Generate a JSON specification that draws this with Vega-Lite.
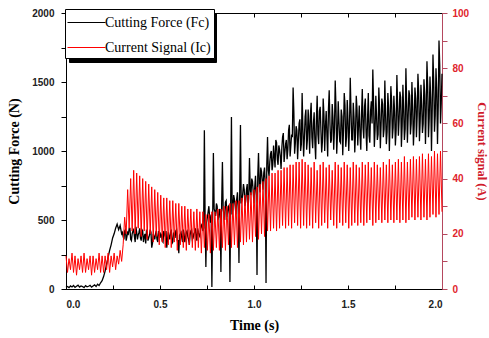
{
  "$schema": "https://vega.github.io/schema/vega-lite/v6.json",
  "width": 376,
  "height": 276,
  "autosize": {"type": "none"},
  "padding": {"left": 66, "top": 13, "right": 47, "bottom": 49},
  "background": "white",
  "config": {
    "view": {"stroke": "#000000", "strokeWidth": 1},
    "axis": {"grid": false, "labelFont": "Liberation Sans", "labelFontWeight": "bold", "labelFontSize": 10, "titleFont": "Liberation Serif", "titleFontWeight": "bold", "titleFontSize": 14},
    "legend": {"labelFont": "Liberation Serif", "labelFontSize": 14}
  },
  "data": {"values": [
{"t":0,"f":12,"c":12},{"t":0.008,"f":18,"c":6},{"t":0.016,"f":10,"c":11},{"t":0.024,"f":22,"c":7},{"t":0.032,"f":15,"c":13},{"t":0.04,"f":25,"c":6},{"t":0.048,"f":12,"c":12},{"t":0.056,"f":20,"c":5},{"t":0.064,"f":28,"c":11},{"t":0.072,"f":14,"c":7},
{"t":0.08,"f":22,"c":12},{"t":0.088,"f":18,"c":6},{"t":0.096,"f":10,"c":13},{"t":0.104,"f":24,"c":6},{"t":0.112,"f":16,"c":11},{"t":0.12,"f":20,"c":7},{"t":0.128,"f":26,"c":12},{"t":0.136,"f":14,"c":5},{"t":0.144,"f":22,"c":12},{"t":0.152,"f":30,"c":6},
{"t":0.16,"f":18,"c":11},{"t":0.168,"f":35,"c":7},{"t":0.176,"f":25,"c":13},{"t":0.184,"f":45,"c":6},{"t":0.192,"f":60,"c":12},{"t":0.2,"f":90,"c":6},{"t":0.208,"f":130,"c":12},{"t":0.216,"f":180,"c":7},{"t":0.224,"f":230,"c":13},{"t":0.232,"f":280,"c":6},
{"t":0.24,"f":320,"c":12},{"t":0.248,"f":370,"c":8},{"t":0.256,"f":400,"c":13},{"t":0.264,"f":440,"c":7},{"t":0.272,"f":470,"c":12},{"t":0.28,"f":430,"c":9},{"t":0.288,"f":460,"c":14},{"t":0.296,"f":400,"c":10},{"t":0.304,"f":380,"c":16},{"t":0.312,"f":420,"c":26},
{"t":0.32,"f":350,"c":20},{"t":0.328,"f":410,"c":36},{"t":0.336,"f":440,"c":22},{"t":0.344,"f":360,"c":40},{"t":0.352,"f":400,"c":21},{"t":0.36,"f":430,"c":43},{"t":0.368,"f":340,"c":20},{"t":0.376,"f":410,"c":42},{"t":0.384,"f":390,"c":22},{"t":0.392,"f":440,"c":41},
{"t":0.4,"f":350,"c":19},{"t":0.408,"f":420,"c":40},{"t":0.416,"f":380,"c":21},{"t":0.424,"f":330,"c":39},{"t":0.432,"f":410,"c":18},{"t":0.44,"f":370,"c":38},{"t":0.448,"f":430,"c":20},{"t":0.456,"f":300,"c":37},{"t":0.464,"f":400,"c":17},{"t":0.472,"f":360,"c":36},
{"t":0.48,"f":420,"c":19},{"t":0.488,"f":340,"c":35},{"t":0.496,"f":390,"c":16},{"t":0.504,"f":400,"c":34},{"t":0.512,"f":350,"c":17},{"t":0.52,"f":420,"c":33},{"t":0.528,"f":380,"c":15},{"t":0.536,"f":300,"c":33},{"t":0.544,"f":410,"c":16},{"t":0.552,"f":360,"c":32},
{"t":0.56,"f":430,"c":15},{"t":0.568,"f":340,"c":32},{"t":0.576,"f":390,"c":17},{"t":0.584,"f":420,"c":31},{"t":0.592,"f":350,"c":14},{"t":0.6,"f":260,"c":31},{"t":0.608,"f":400,"c":16},{"t":0.616,"f":370,"c":30},{"t":0.624,"f":430,"c":15},{"t":0.632,"f":340,"c":30},
{"t":0.64,"f":410,"c":14},{"t":0.648,"f":380,"c":29},{"t":0.656,"f":320,"c":16},{"t":0.664,"f":420,"c":29},{"t":0.672,"f":360,"c":15},{"t":0.68,"f":400,"c":28},{"t":0.688,"f":440,"c":14},{"t":0.696,"f":350,"c":29},{"t":0.704,"f":410,"c":15},{"t":0.712,"f":380,"c":28},
{"t":0.72,"f":460,"c":13},{"t":0.728,"f":420,"c":28},{"t":0.736,"f":1150,"c":15},{"t":0.744,"f":160,"c":27},{"t":0.752,"f":520,"c":14},{"t":0.76,"f":600,"c":27},{"t":0.768,"f":480,"c":13},{"t":0.776,"f":15,"c":28},{"t":0.784,"f":985,"c":14},{"t":0.792,"f":560,"c":28},
{"t":0.8,"f":620,"c":15},{"t":0.808,"f":500,"c":29},{"t":0.816,"f":580,"c":14},{"t":0.824,"f":123,"c":29},{"t":0.832,"f":920,"c":15},{"t":0.84,"f":540,"c":30},{"t":0.848,"f":630,"c":14},{"t":0.856,"f":520,"c":30},{"t":0.864,"f":600,"c":16},{"t":0.872,"f":50,"c":31},
{"t":0.88,"f":1246,"c":15},{"t":0.888,"f":580,"c":31},{"t":0.896,"f":650,"c":16},{"t":0.904,"f":540,"c":32},{"t":0.912,"f":700,"c":15},{"t":0.92,"f":188,"c":32},{"t":0.928,"f":1188,"c":17},{"t":0.936,"f":640,"c":33},{"t":0.944,"f":760,"c":16},{"t":0.952,"f":600,"c":34},
{"t":0.96,"f":720,"c":17},{"t":0.968,"f":580,"c":34},{"t":0.976,"f":950,"c":18},{"t":0.984,"f":680,"c":35},{"t":0.992,"f":780,"c":17},{"t":1.0,"f":620,"c":36},{"t":1.008,"f":820,"c":19},{"t":1.016,"f":101,"c":37},{"t":1.024,"f":985,"c":18},{"t":1.032,"f":700,"c":38},
{"t":1.04,"f":850,"c":20},{"t":1.048,"f":720,"c":39},{"t":1.056,"f":880,"c":19},{"t":1.064,"f":43,"c":40},{"t":1.072,"f":1101,"c":21},{"t":1.08,"f":820,"c":41},{"t":1.088,"f":980,"c":21},{"t":1.096,"f":860,"c":42},{"t":1.104,"f":1040,"c":22},{"t":1.112,"f":880,"c":42},
{"t":1.12,"f":1060,"c":21},{"t":1.128,"f":900,"c":43},{"t":1.136,"f":1010,"c":22},{"t":1.144,"f":870,"c":43},{"t":1.152,"f":1100,"c":23},{"t":1.16,"f":920,"c":44},{"t":1.168,"f":1050,"c":22},{"t":1.176,"f":940,"c":44},{"t":1.184,"f":1150,"c":23},{"t":1.192,"f":960,"c":45},
{"t":1.2,"f":1120,"c":22},{"t":1.208,"f":1460,"c":45},{"t":1.216,"f":980,"c":24},{"t":1.224,"f":1180,"c":46},{"t":1.232,"f":940,"c":23},{"t":1.24,"f":1200,"c":46},{"t":1.248,"f":1000,"c":22},{"t":1.256,"f":1420,"c":47},{"t":1.264,"f":960,"c":23},{"t":1.272,"f":1250,"c":46},
{"t":1.28,"f":1010,"c":22},{"t":1.288,"f":1300,"c":45},{"t":1.296,"f":980,"c":23},{"t":1.304,"f":1350,"c":44},{"t":1.312,"f":1020,"c":22},{"t":1.32,"f":1280,"c":46},{"t":1.328,"f":940,"c":24},{"t":1.336,"f":1400,"c":43},{"t":1.344,"f":1050,"c":22},{"t":1.352,"f":1320,"c":45},
{"t":1.36,"f":990,"c":23},{"t":1.368,"f":1380,"c":46},{"t":1.376,"f":1000,"c":24},{"t":1.384,"f":1290,"c":44},{"t":1.392,"f":960,"c":22},{"t":1.4,"f":1440,"c":45},{"t":1.408,"f":1060,"c":25},{"t":1.416,"f":1340,"c":43},{"t":1.424,"f":1010,"c":23},{"t":1.432,"f":1510,"c":46},
{"t":1.44,"f":980,"c":22},{"t":1.448,"f":1360,"c":45},{"t":1.456,"f":1070,"c":24},{"t":1.464,"f":1300,"c":44},{"t":1.472,"f":970,"c":23},{"t":1.48,"f":1420,"c":46},{"t":1.488,"f":1030,"c":24},{"t":1.496,"f":1370,"c":45},{"t":1.504,"f":1000,"c":22},{"t":1.512,"f":1530,"c":44},
{"t":1.52,"f":1080,"c":23},{"t":1.528,"f":1350,"c":46},{"t":1.536,"f":990,"c":24},{"t":1.544,"f":1400,"c":45},{"t":1.552,"f":1040,"c":23},{"t":1.56,"f":1330,"c":44},{"t":1.568,"f":1010,"c":24},{"t":1.576,"f":1450,"c":46},{"t":1.584,"f":1090,"c":23},{"t":1.592,"f":1380,"c":45},
{"t":1.6,"f":1000,"c":24},{"t":1.608,"f":1420,"c":46},{"t":1.616,"f":1060,"c":25},{"t":1.624,"f":1360,"c":44},{"t":1.632,"f":1590,"c":23},{"t":1.64,"f":1030,"c":46},{"t":1.648,"f":1400,"c":24},{"t":1.656,"f":1080,"c":45},{"t":1.664,"f":1460,"c":25},{"t":1.672,"f":1020,"c":44},
{"t":1.68,"f":1380,"c":24},{"t":1.688,"f":1100,"c":46},{"t":1.696,"f":1510,"c":25},{"t":1.704,"f":1050,"c":45},{"t":1.712,"f":1420,"c":24},{"t":1.72,"f":1000,"c":47},{"t":1.728,"f":1470,"c":25},{"t":1.736,"f":1090,"c":45},{"t":1.744,"f":1400,"c":24},{"t":1.752,"f":1040,"c":46},
{"t":1.76,"f":1550,"c":25},{"t":1.768,"f":1110,"c":47},{"t":1.776,"f":1430,"c":24},{"t":1.784,"f":1030,"c":46},{"t":1.792,"f":1480,"c":25},{"t":1.8,"f":1080,"c":48},{"t":1.808,"f":1600,"c":24},{"t":1.816,"f":1060,"c":46},{"t":1.824,"f":1440,"c":25},{"t":1.832,"f":1120,"c":47},
{"t":1.84,"f":1500,"c":26},{"t":1.848,"f":1040,"c":48},{"t":1.856,"f":1460,"c":25},{"t":1.864,"f":1100,"c":47},{"t":1.872,"f":1560,"c":26},{"t":1.88,"f":1070,"c":48},{"t":1.888,"f":1480,"c":25},{"t":1.896,"f":1130,"c":49},{"t":1.904,"f":1520,"c":26},{"t":1.912,"f":1050,"c":47},
{"t":1.92,"f":1650,"c":25},{"t":1.928,"f":1100,"c":49},{"t":1.936,"f":1540,"c":26},{"t":1.944,"f":1000,"c":48},{"t":1.952,"f":1700,"c":27},{"t":1.96,"f":1140,"c":50},{"t":1.968,"f":1600,"c":26},{"t":1.976,"f":1050,"c":49},{"t":1.984,"f":1800,"c":27},{"t":1.992,"f":1200,"c":50},
{"t":2.0,"f":1560,"c":28},
{"t":0.3,"f":410},{"t":0.308,"f":360},{"t":0.316,"f":430},{"t":0.324,"f":380},{"t":0.332,"f":400},{"t":0.34,"f":440},{"t":0.348,"f":350},{"t":0.356,"f":420},{"t":0.364,"f":380},{"t":0.372,"f":450},
{"t":0.38,"f":360},{"t":0.388,"f":410},{"t":0.396,"f":370},{"t":0.404,"f":430},{"t":0.412,"f":340},{"t":0.42,"f":400},{"t":0.428,"f":420},{"t":0.436,"f":350},{"t":0.444,"f":390},{"t":0.452,"f":410},
{"t":0.46,"f":330},{"t":0.468,"f":380},{"t":0.476,"f":400},{"t":0.484,"f":360},{"t":0.492,"f":420},{"t":0.5,"f":370},{"t":0.508,"f":390},{"t":0.516,"f":340},{"t":0.524,"f":400},{"t":0.532,"f":420},
{"t":0.54,"f":360},{"t":0.548,"f":380},{"t":0.556,"f":410},{"t":0.564,"f":330},{"t":0.572,"f":400},{"t":0.58,"f":370},{"t":0.588,"f":430},{"t":0.596,"f":350},{"t":0.604,"f":390},{"t":0.612,"f":410},
{"t":0.62,"f":340},{"t":0.628,"f":400},{"t":0.636,"f":380},{"t":0.644,"f":420},{"t":0.652,"f":360},{"t":0.66,"f":390},{"t":0.668,"f":430},{"t":0.676,"f":370},{"t":0.684,"f":410},{"t":0.692,"f":380},
{"t":0.7,"f":440},{"t":0.708,"f":390},{"t":0.716,"f":430},{"t":0.724,"f":470},{"t":0.732,"f":440},{"t":0.74,"f":500},{"t":0.748,"f":480},{"t":0.756,"f":560},{"t":0.764,"f":520},{"t":0.772,"f":540},
{"t":0.78,"f":500},{"t":0.788,"f":580},{"t":0.796,"f":530},{"t":0.804,"f":600},{"t":0.812,"f":520},{"t":0.82,"f":560},{"t":0.828,"f":610},{"t":0.836,"f":580},{"t":0.844,"f":500},{"t":0.852,"f":640},
{"t":0.86,"f":560},{"t":0.868,"f":590},{"t":0.876,"f":620},{"t":0.884,"f":540},{"t":0.892,"f":680},{"t":0.9,"f":600},{"t":0.908,"f":650},{"t":0.916,"f":580},{"t":0.924,"f":700},{"t":0.932,"f":620},
{"t":0.94,"f":690},{"t":0.948,"f":720},{"t":0.956,"f":640},{"t":0.964,"f":760},{"t":0.972,"f":660},{"t":0.98,"f":720},{"t":0.988,"f":800},{"t":0.996,"f":700},{"t":1.004,"f":740},{"t":1.012,"f":680},
{"t":1.02,"f":820},{"t":1.028,"f":760},{"t":1.036,"f":880},{"t":1.044,"f":780},{"t":1.052,"f":840},{"t":1.06,"f":760},{"t":1.068,"f":900},{"t":1.076,"f":860},{"t":1.084,"f":920},{"t":1.092,"f":1000},
{"t":1.1,"f":900},{"t":1.108,"f":960},{"t":1.116,"f":1080},{"t":1.124,"f":940},{"t":1.132,"f":1040},{"t":1.14,"f":960},{"t":1.148,"f":1020},{"t":1.156,"f":1130},{"t":1.164,"f":990},{"t":1.172,"f":1080},
{"t":1.18,"f":1010},{"t":1.188,"f":1190},{"t":1.196,"f":1040},{"t":1.204,"f":1100},{"t":1.212,"f":1280},{"t":1.22,"f":1060},{"t":1.228,"f":1150},{"t":1.236,"f":1080},{"t":1.244,"f":1230},{"t":1.252,"f":1050},
{"t":1.26,"f":1160},{"t":1.268,"f":1100},{"t":1.276,"f":1300},{"t":1.284,"f":1080},{"t":1.292,"f":1180},{"t":1.3,"f":1260},{"t":1.308,"f":1100},{"t":1.316,"f":1200},{"t":1.324,"f":1060},{"t":1.332,"f":1230},
{"t":1.34,"f":1120},{"t":1.348,"f":1290},{"t":1.356,"f":1150},{"t":1.364,"f":1070},{"t":1.372,"f":1260},{"t":1.38,"f":1180},{"t":1.388,"f":1110},{"t":1.396,"f":1300},{"t":1.404,"f":1200},{"t":1.412,"f":1080},
{"t":1.42,"f":1240},{"t":1.428,"f":1160},{"t":1.436,"f":1320},{"t":1.444,"f":1120},{"t":1.452,"f":1210},{"t":1.46,"f":1060},{"t":1.468,"f":1250},{"t":1.476,"f":1150},{"t":1.484,"f":1330},{"t":1.492,"f":1100},
{"t":1.5,"f":1220},{"t":1.508,"f":1170},{"t":1.516,"f":1290},{"t":1.524,"f":1080},{"t":1.532,"f":1240},{"t":1.54,"f":1130},{"t":1.548,"f":1300},{"t":1.556,"f":1190},{"t":1.564,"f":1110},{"t":1.572,"f":1260},
{"t":1.58,"f":1170},{"t":1.588,"f":1320},{"t":1.596,"f":1140},{"t":1.604,"f":1230},{"t":1.612,"f":1110},{"t":1.62,"f":1290},{"t":1.628,"f":1200},{"t":1.636,"f":1350},{"t":1.644,"f":1150},{"t":1.652,"f":1250},
{"t":1.66,"f":1120},{"t":1.668,"f":1300},{"t":1.676,"f":1190},{"t":1.684,"f":1340},{"t":1.692,"f":1160},{"t":1.7,"f":1260},{"t":1.708,"f":1140},{"t":1.716,"f":1310},{"t":1.724,"f":1210},{"t":1.732,"f":1360},
{"t":1.74,"f":1170},{"t":1.748,"f":1280},{"t":1.756,"f":1150},{"t":1.764,"f":1330},{"t":1.772,"f":1230},{"t":1.78,"f":1390},{"t":1.788,"f":1180},{"t":1.796,"f":1300},{"t":1.804,"f":1160},{"t":1.812,"f":1350},
{"t":1.82,"f":1250},{"t":1.828,"f":1400},{"t":1.836,"f":1200},{"t":1.844,"f":1320},{"t":1.852,"f":1180},{"t":1.86,"f":1380},{"t":1.868,"f":1260},{"t":1.876,"f":1430},{"t":1.884,"f":1220},{"t":1.892,"f":1340},
{"t":1.9,"f":1200},{"t":1.908,"f":1410},{"t":1.916,"f":1280},{"t":1.924,"f":1470},{"t":1.932,"f":1240},{"t":1.94,"f":1380},{"t":1.948,"f":1300},{"t":1.956,"f":1500},{"t":1.964,"f":1260},{"t":1.972,"f":1440},
{"t":1.98,"f":1330},{"t":1.988,"f":1620},{"t":1.996,"f":1350}
  ]},
  "layer": [
    {
      "mark": {"type": "line", "strokeWidth": 1.3, "invalid": "filter"},
      "encoding": {
        "x": {"field": "t", "type": "quantitative", "scale": {"domain": [0, 2], "nice": false},
          "axis": {"orient": "bottom", "values": [0, 0.25, 0.5, 0.75, 1, 1.25, 1.5, 1.75, 2],
            "labelExpr": "datum.value % 0.5 == 0 ? format(datum.value, '.1f') : ''",
            "title": "Time (s)", "tickSize": -4, "labelPadding": 14, "titlePadding": 9,
            "domainColor": "#000000", "tickColor": "#000000", "labelColor": "#222222", "titleColor": "#000000"}},
        "y": {"field": "f", "type": "quantitative", "scale": {"domain": [0, 2000], "nice": false},
          "axis": {"orient": "left", "values": [0, 250, 500, 750, 1000, 1250, 1500, 1750, 2000],
            "labelExpr": "datum.value % 500 == 0 ? format(datum.value, 'd') : ''",
            "title": "Cutting Force (N)", "tickSize": 5, "labelPadding": 7, "titlePadding": 10,
            "domainColor": "#000000", "tickColor": "#000000", "labelColor": "#222222", "titleColor": "#000000"}},
        "color": {"datum": "Cutting Force (Fc)", "type": "nominal",
          "scale": {"domain": ["Cutting Force (Fc)", "Current Signal (Ic)"], "range": ["#000000", "#ff0000"]},
          "legend": {"orient": "none", "legendX": -1, "legendY": -4, "title": null, "zindex": 2,
            "strokeColor": "#000000", "fillColor": "#ffffff", "padding": 3,
            "symbolType": "M-1.9,0L1.9,0", "symbolSize": 400, "symbolStrokeWidth": 1, "symbolOffset": 8,
            "labelFont": "Liberation Serif", "labelFontSize": 14, "labelColor": "#000000",
            "rowPadding": 7, "labelOffset": 8}},
        "opacity": {"datum": "s1", "type": "nominal",
          "scale": {"domain": ["s1", "s2"], "range": [1, 1]},
          "legend": {"orient": "none", "legendX": 3, "legendY": 0, "title": null, "zindex": 1,
            "strokeColor": "#000000", "fillColor": "#000000", "padding": 3,
            "symbolType": "M-1.9,0L1.9,0", "symbolSize": 400, "symbolStrokeWidth": 1, "symbolOffset": 8,
            "symbolStrokeColor": "#000000", "symbolFillColor": "#000000",
            "labelExpr": "''",
            "labelFont": "Liberation Serif", "labelFontSize": 14, "labelColor": "#000000",
            "rowPadding": 7, "labelOffset": 112}}
      }
    },
    {
      "mark": {"type": "line", "strokeWidth": 1, "invalid": "filter"},
      "encoding": {
        "x": {"field": "t", "type": "quantitative",
          "axis": {"orient": "top", "values": [0.25, 0.5, 0.75, 1, 1.25, 1.5, 1.75], "labels": false, "title": null,
            "domain": false, "tickSize": -4, "tickColor": "#000000"}},
        "y": {"field": "c", "type": "quantitative", "scale": {"domain": [0, 100], "nice": false},
          "axis": {"orient": "right", "values": [0, 10, 20, 30, 40, 50, 60, 70, 80, 90, 100],
            "labelExpr": "datum.value % 20 == 0 ? format(datum.value, 'd') : ''",
            "title": "Current signal (A)", "titleFontSize": 12.5, "tickSize": 5, "labelPadding": 5, "titlePadding": 6,
            "domainColor": "#b5485e", "tickColor": "#b5485e", "labelColor": "#e0242c", "titleColor": "#d01c2c"}},
        "color": {"datum": "Current Signal (Ic)", "type": "nominal"},
        "opacity": {"datum": "s2", "type": "nominal"}
      }
    }
  ],
  "resolve": {"scale": {"y": "independent"}, "axis": {"x": "independent"}}
}
